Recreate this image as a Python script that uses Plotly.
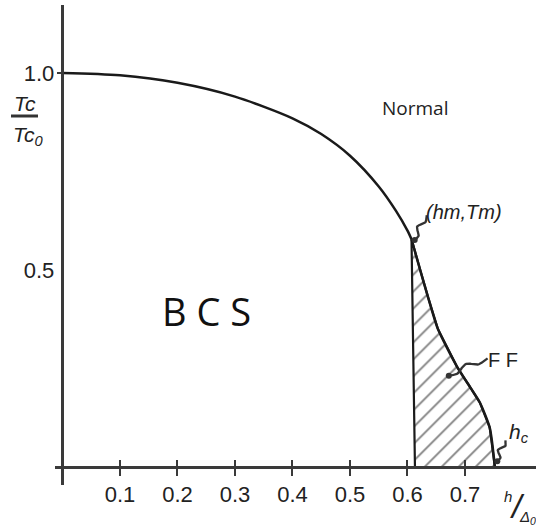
import numpy as np
import plotly.graph_objects as go

# Phase diagram: reduced critical temperature vs reduced field
bcs_h = [0.0, 0.1, 0.2, 0.3, 0.4, 0.45, 0.5, 0.55, 0.58, 0.6, 0.607]
bcs_T = [1.0, 0.994, 0.975, 0.940, 0.885, 0.845, 0.790, 0.712, 0.650, 0.600, 0.578]

ff_h = [0.607, 0.622, 0.636, 0.653, 0.686, 0.710, 0.726, 0.743, 0.752]
ff_T = [0.578, 0.500, 0.430, 0.350, 0.255, 0.200, 0.163, 0.100, 0.0]

# first-order boundary closing the FF pocket on the left
edge_h = [0.607, 0.613]
edge_T = [0.578, 0.0]

x_ticks = [0.1, 0.2, 0.3, 0.4, 0.5, 0.6, 0.7]
x_tick_text = ["0.1", "0.2", "0.3", "0.4", "0.5", "0.6", "0.7"]
y_ticks = [0.5, 1.0]
y_tick_text = ["0.5", "1.0"]

hm, Tm = ff_h[0], ff_T[0]
hc = ff_h[-1]

W, H = 536, 528
M = dict(l=55, r=0, t=5, b=43)
x_range = [-0.013, 0.8235]
y_range = [-0.0457, 1.1726]
px_x = (W - M["l"] - M["r"]) / (x_range[1] - x_range[0])
px_y = (H - M["t"] - M["b"]) / (y_range[1] - y_range[0])

INK = "#1a1a1a"
AXIS = "#3a3a3a"
NUM_FONT = "Liberation Sans, Arial, sans-serif"
TXT_FONT = "Open Sans, Noto Sans, sans-serif"


def squiggle(h0, T0, dx, dy, amp=3.5, turns=1.5, n=40):
    """Wavy leader line starting at (h0, T0), running dx, dy screen pixels."""
    t = np.linspace(0, 1, n)
    L = np.hypot(dx, dy)
    nx, ny = -dy / L, dx / L
    w = amp * np.sin(2 * np.pi * turns * t) * np.sin(np.pi * t)
    sxp = dx * t + nx * w
    syp = dy * t + ny * w
    return h0 + sxp / px_x, T0 - syp / px_y


fig = go.Figure()

# hatched FF region
poly_h = ff_h + [edge_h[1], edge_h[0]]
poly_T = ff_T + [edge_T[1], edge_T[0]]
fig.add_trace(go.Scatter(
    x=poly_h, y=poly_T, mode="lines", fill="toself",
    fillcolor="rgba(0,0,0,0)",
    fillpattern=dict(shape="/", fgcolor="#000", bgcolor="white", size=12, solidity=0.15),
    line=dict(color=INK, width=2.2), hoverinfo="skip", showlegend=False,
))

# BCS transition line
fig.add_trace(go.Scatter(
    x=bcs_h, y=bcs_T, mode="lines", line=dict(color=INK, width=2.5, shape="spline", smoothing=0.8),
    hoverinfo="skip", showlegend=False,
))

# FF upper boundary
fig.add_trace(go.Scatter(
    x=ff_h, y=ff_T, mode="lines", line=dict(color=INK, width=2.5, shape="spline", smoothing=0.6),
    hoverinfo="skip", showlegend=False,
))

# wavy leaders to the labels
for (h0, T0, dx, dy) in [(hm + 0.004, Tm - 0.005, 13, -26),
                         (0.668, 0.23, 41, -18),
                         (hc + 0.003, 0.012, 9, -22)]:
    sh, sT = squiggle(h0, T0, dx, dy)
    fig.add_trace(go.Scatter(x=sh, y=sT, mode="lines", line=dict(color="#333", width=2.3),
                             hoverinfo="skip", showlegend=False))
    fig.add_trace(go.Scatter(x=[sh[2]], y=[sT[2]], mode="markers",
                             marker=dict(color="#333", size=6), hoverinfo="skip", showlegend=False))

ann = [
    dict(x=0.613, y=0.911, text="Normal", font=dict(family=TXT_FONT, size=19, color="#222")),
    dict(x=0.251, y=0.396, text="B C S", font=dict(family=TXT_FONT, size=38, color="#111")),
    dict(x=0.698, y=0.647, text="<i>(hm,Tm)</i>", font=dict(family=NUM_FONT, size=20, color="#222")),
    dict(x=0.766, y=0.272, text="F F", font=dict(family=NUM_FONT, size=20, color="#222")),
    dict(x=0.794, y=0.086, text="<i>h<sub>c</sub></i>", font=dict(family=NUM_FONT, size=21, color="#222")),
]
for a in ann:
    fig.add_annotation(xref="x", yref="y", showarrow=False, xanchor="center", yanchor="middle", **a)


def paper_x(p):
    return (p - M["l"]) / (W - M["l"] - M["r"])


def paper_y(p):
    return (H - M["b"] - p) / (H - M["t"] - M["b"])


def label(px, py, text, size):
    fig.add_annotation(xref="paper", yref="paper", x=paper_x(px), y=paper_y(py), showarrow=False,
                       xanchor="center", yanchor="middle", text=text,
                       font=dict(family=NUM_FONT, size=size, color="#222"))


# y-axis title as a fraction Tc / Tc0
label(25, 103, "<i>Tc</i>", 21)
label(28, 136, "<i>Tc<sub>0</sub></i>", 21)
fig.add_shape(type="line", xref="paper", yref="paper", x0=paper_x(11), x1=paper_x(38),
              y0=paper_y(116), y1=paper_y(116), line=dict(color="#333", width=3))

# x-axis title h / Δ0
label(508, 496, "<i>h</i>", 15)
label(517, 506, "<i>/</i>", 34)
label(527, 517, "<i>Δ<sub>0</sub></i>", 15)

x_pos = (0 - y_range[0]) / (y_range[1] - y_range[0])
y_pos = (0 - x_range[0]) / (x_range[1] - x_range[0])

axis_common = dict(showgrid=False, zeroline=False)
fig.update_layout(
    width=W, height=H, autosize=False, margin=M,
    plot_bgcolor="white", paper_bgcolor="white",
    xaxis=dict(range=x_range, anchor="free", position=x_pos, showline=True,
               linecolor=AXIS, linewidth=2.5, tickvals=x_ticks, ticktext=x_tick_text,
               ticks="outside", ticklen=7, tickwidth=2, tickcolor=AXIS,
               ticklabelstandoff=0,
               tickfont=dict(family=NUM_FONT, size=22, color="#222"), **axis_common),
    xaxis2=dict(range=x_range, overlaying="x", anchor="free", position=x_pos,
                showline=False, tickvals=x_ticks, showticklabels=False,
                ticks="inside", ticklen=7, tickwidth=2, tickcolor=AXIS, **axis_common),
    yaxis=dict(range=y_range, anchor="free", position=y_pos, showline=True,
               linecolor=AXIS, linewidth=2.5, tickvals=y_ticks, ticktext=y_tick_text,
               ticks="", ticklabelstandoff=3,
               minor=dict(tickvals=[1.0], ticks="outside", ticklen=5, tickwidth=2, tickcolor=AXIS),
               tickfont=dict(family=NUM_FONT, size=22, color="#222"), **axis_common),
)
# keep the second x-axis drawn by giving it an invisible trace
fig.add_trace(go.Scatter(x=[0.1], y=[0.5], xaxis="x2", mode="markers",
                         marker=dict(opacity=0), hoverinfo="skip", showlegend=False))

fig.write_html("out.html")
